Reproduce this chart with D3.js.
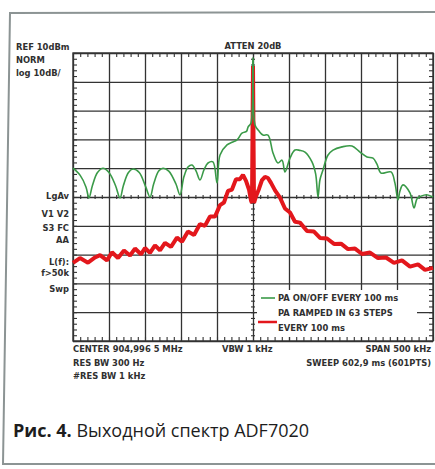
<!DOCTYPE html>
<html>
<head>
<meta charset="utf-8">
<script src="https://cdn.jsdelivr.net/npm/d3@7"></script>
<style>
  body { margin: 0; background: #fff; }
  .instr { font-family: "DejaVu Sans Condensed", "Liberation Sans Narrow", sans-serif; font-weight: bold; font-size: 9.3px; fill: #303030; }
</style>
</head>
<body>
<div id="chart-area"></div>
<script>
// ---- data (frequency offset from centre, kHz ; level, dBm) ----
const green_khz = [-250, -240, -232, -227.8, -223, -216, -208.3, -200, -191, -184.7, -180, -173, -166.7, -158, -149, -143, -138, -131, -125, -117, -107, -101.4, -96, -90, -84.7, -79, -73.6, -68, -62.5, -55.6, -50, -45.8, -36.1, -29, -22.2, -15.3, -9, -6.9, -2.8, 0, 2.8, 8, 13.9, 20.8, 27.8, 34.7, 40.3, 44.4, 51.4, 58.3, 65, 72.2, 81.9, 87, 90.3, 93, 97.2, 104, 111.1, 123.6, 137.5, 148.6, 158.3, 166.7, 172, 177.8, 191.7, 197, 201.4, 204, 208.3, 218, 223.6, 228, 233.3, 241, 250];
const green_db  = [-30.0, -32.5, -36.5, -40.3, -36.0, -31.5, -30.0, -31.5, -36.0, -40.3, -36.0, -31.5, -30.3, -31.5, -36.5, -40.0, -35.5, -31.0, -30.0, -31.0, -35.5, -39.3, -33.0, -29.5, -28.9, -31.0, -34.1, -30.5, -28.2, -27.8, -35.1, -25.4, -21.9, -21.0, -20.2, -17.8, -17.2, -15.7, -14.3, 8.3, -15.0, -17.0, -18.5, -18.5, -24.7, -28.2, -27.2, -31.3, -26.5, -23.7, -23.8, -24.4, -27.8, -32.0, -40.0, -34.0, -30.6, -25.5, -23.7, -22.6, -22.3, -24.4, -26.1, -26.5, -28.5, -31.7, -31.3, -35.0, -41.0, -38.0, -35.8, -38.6, -43.8, -40.5, -39.7, -39.2, -40.0];

const red_khz = [-250, -240.3, -229.2, -219.4, -212.5, -202.8, -195.8, -187.5, -179.2, -170.8, -163.9, -155.6, -150, -143.1, -136.1, -129.2, -122.2, -113.9, -105.6, -98.6, -90.3, -81.9, -73.6, -66.7, -59.7, -52.8, -45.8, -40.3, -34.7, -29.2, -23.6, -18.1, -13.9, -9.7, -5.6, -2.8, -1.4, 0, 1.4, 4.2, 8.3, 12.5, 16.7, 20.8, 25, 30.6, 37.5, 44.4, 51.4, 58.3, 65.3, 75, 84.7, 93.1, 102.8, 112.5, 122.2, 131.9, 141.7, 151.4, 162.5, 173.6, 184.7, 195.8, 206.9, 218.1, 229.2, 238.9, 250];
const red_db  = [-62.9, -61.2, -62.8, -61.0, -60.2, -62.0, -59.2, -61.2, -58.6, -60.3, -57.9, -59.9, -57.7, -59.4, -56.8, -58.5, -55.9, -57.3, -54.1, -55.5, -52.0, -53.2, -49.4, -50.0, -46.8, -46.8, -42.8, -41.9, -37.9, -37.4, -33.8, -33.8, -32.3, -34.4, -37.4, -41.2, -42.1, 5.5, -42.1, -39.7, -37.2, -34.1, -33.0, -33.4, -35.1, -37.7, -40.2, -44.0, -45.4, -48.6, -48.9, -51.8, -52.0, -54.2, -54.4, -56.3, -56.2, -58.1, -57.9, -59.8, -59.3, -61.2, -61.0, -62.9, -62.0, -64.2, -63.4, -65.3, -64.6];

const series_names = ["PA ON/OFF EVERY 100 ms", "PA RAMPED IN 63 STEPS|EVERY 100 ms"];
const series_colors = ["#3a9a48", "#e3171c"];

const x_major = d3.range(-250, 251, 50);
const x_minor = d3.range(-250, 251, 10);
const y_major = d3.range(-90, 11, 10);
const y_minor = d3.range(-90, 11, 2);

const left_labels = ["REF 10dBm", "NORM", "log 10dB/"];
const side_labels = ["LgAv", "V1 V2", "S3 FC", "AA", "L(f):", "f>50k", "Swp"];
const bottom_left = ["CENTER 904,996 5 MHz", "RES BW 300 Hz", "#RES BW 1 kHz"];
const bottom_right = ["SPAN 500 kHz", "SWEEP 602,9 ms (601PTS)"];

// ---- svg ----
const svg = d3.select("#chart-area").append("svg")
  .attr("width", 435).attr("height", 469);

svg.append("rect").attr("width", 435).attr("height", 469).attr("fill", "#fff");

// outer page frame (photo slightly skewed)
svg.append("path")
  .attr("d", "M435,12 L10,13 L3,464 L435,464")
  .attr("fill", "none").attr("stroke", "#8c9494").attr("stroke-width", 2);

const m = { left: 73, right: 433, top: 53, bottom: 341 };
const x = d3.scaleLinear().domain([-250, 250]).range([m.left, m.right]);
const y = d3.scaleLinear().domain([-90, 10]).range([m.bottom, m.top]);

const grid = svg.append("g");

// graticule
grid.append("g")
  .attr("transform", `translate(0, ${m.bottom})`)
  .call(d3.axisBottom(x).tickValues(x_major).tickSize(-(m.bottom - m.top)).tickFormat(""))
  .call(g => g.select(".domain").remove());
grid.append("g")
  .attr("transform", `translate(${m.left}, 0)`)
  .call(d3.axisLeft(y).tickValues(y_major).tickSize(-(m.right - m.left)).tickFormat(""))
  .call(g => g.select(".domain").remove());
grid.selectAll("line").attr("stroke", "#333").attr("stroke-width", 1.3);

// minor ticks on border and centre lines
const minor = svg.append("g");
minor.append("g").attr("transform", `translate(0, ${m.top})`)
  .call(d3.axisTop(x).tickValues(x_minor).tickSize(-4).tickFormat(""));
minor.append("g").attr("transform", `translate(0, ${m.bottom})`)
  .call(d3.axisBottom(x).tickValues(x_minor).tickSize(-4).tickFormat(""));
minor.append("g").attr("transform", `translate(${m.left}, 0)`)
  .call(d3.axisLeft(y).tickValues(y_minor).tickSize(-4).tickFormat(""));
minor.append("g").attr("transform", `translate(${m.right}, 0)`)
  .call(d3.axisRight(y).tickValues(y_minor).tickSize(-4).tickFormat(""));
// centre cross
minor.append("g").attr("transform", `translate(0, ${y(-40) - 2})`)
  .call(d3.axisBottom(x).tickValues(x_minor).tickSize(4).tickFormat(""));
minor.append("g").attr("transform", `translate(${x(0) - 2}, 0)`)
  .call(d3.axisRight(y).tickValues(y_minor).tickSize(4).tickFormat(""));
minor.selectAll(".domain").remove();
minor.selectAll("line").attr("stroke", "#333").attr("stroke-width", 1.1);

// frame
svg.append("rect")
  .attr("x", m.left).attr("y", m.top)
  .attr("width", m.right - m.left).attr("height", m.bottom - m.top)
  .attr("fill", "none").attr("stroke", "#333").attr("stroke-width", 1.4);

// traces
const line = d3.line().x(d => x(d[0])).y(d => y(d[1])).curve(d3.curveCatmullRom.alpha(0.5));
const lineSharp = d3.line().x(d => x(d[0])).y(d => y(d[1]));

const red = red_khz.map((f, i) => [f, red_db[i]]);
const green = green_khz.map((f, i) => [f, green_db[i]]);

svg.append("path").datum(red)
  .attr("d", lineSharp)
  .attr("fill", "none").attr("stroke", series_colors[1])
  .attr("stroke-width", 4).attr("stroke-linejoin", "bevel");

svg.append("path").datum(green)
  .attr("d", line)
  .attr("fill", "none").attr("stroke", series_colors[0])
  .attr("stroke-width", 1.6).attr("stroke-linejoin", "round");

// legend
const leg = svg.append("g");
leg.append("rect").attr("x", 257).attr("y", 290).attr("width", 160).attr("height", 47).attr("fill", "#fff");
leg.append("line").attr("x1", 261).attr("x2", 275).attr("y1", 298).attr("y2", 298)
  .attr("stroke", series_colors[0]).attr("stroke-width", 1.6);
leg.append("text").attr("class", "instr").attr("x", 278).attr("y", 301).text(series_names[0]);
leg.append("line").attr("x1", 258).attr("x2", 277).attr("y1", 322).attr("y2", 322)
  .attr("stroke", series_colors[1]).attr("stroke-width", 2.5);
series_names[1].split("|").forEach((t, i) => {
  leg.append("text").attr("class", "instr").attr("x", 278).attr("y", 316 + i * 15).text(t);
});

// instrument annotations
left_labels.forEach((t, i) => {
  svg.append("text").attr("class", "instr").attr("x", 16).attr("y", 50 + i * 13).text(t);
});
svg.append("text").attr("class", "instr").attr("x", x(0)).attr("y", 49)
  .attr("text-anchor", "middle").text("ATTEN 20dB");
const side_y = [199, 217, 231, 243, 265, 276, 292];
side_labels.forEach((t, i) => {
  svg.append("text").attr("class", "instr").attr("x", 69).attr("y", side_y[i])
    .attr("text-anchor", "end").text(t);
});
bottom_left.forEach((t, i) => {
  svg.append("text").attr("class", "instr").attr("x", m.left).attr("y", 352 + i * 13.5).text(t);
});
svg.append("text").attr("class", "instr").attr("x", 222).attr("y", 352).text("VBW 1 kHz");
bottom_right.forEach((t, i) => {
  svg.append("text").attr("class", "instr").attr("x", 431).attr("y", 352 + i * 13.5)
    .attr("text-anchor", "end").text(t);
});

// caption
const cap = svg.append("text")
  .attr("x", 13).attr("y", 437)
  .attr("font-family", "'Open Sans', 'Noto Sans', sans-serif")
  .attr("font-size", 18).attr("fill", "#1d1d1d");
cap.append("tspan").attr("font-weight", "bold").text("Рис. 4.");
cap.append("tspan").text(" Выходной спектр ADF7020");
</script>
</body>
</html>
